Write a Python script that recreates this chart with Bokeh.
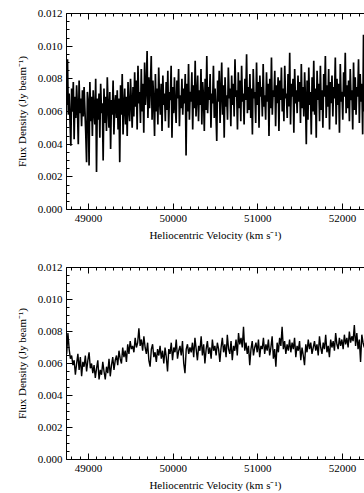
from bokeh.plotting import figure
from bokeh.layouts import column
from bokeh.models import (Range1d, FixedTicker, LinearAxis, NumeralTickFormatter,
                          CustomLabelingPolicy)
from bokeh.embed import file_html
from bokeh.resources import INLINE

# ---- data (flux densities in mJy/beam) ----
raw_v_start = 48742.0      # km/s, first channel
raw_dv = 9.794             # km/s, channel width
raw_flux_mjy = [
    6.4, 9.2, 5.8, 7.1, 5.5, 3.9, 7.4, 6.0, 7.8, 4.3, 6.9, 5.6, 7.6, 6.2, 4.0, 7.9, 5.9, 6.8, 5.1, 7.3,
    5.7, 7.5, 6.1, 4.7, 2.9, 7.2, 6.6, 2.7, 7.8, 5.4, 6.9, 4.5, 7.3, 6.0, 5.2, 8.0, 2.3, 6.8, 5.5, 7.1,
    4.4, 7.7, 5.9, 6.5, 3.0, 7.4, 5.3, 6.9, 4.8, 8.1, 6.2, 5.0, 7.2, 3.7, 6.7, 5.8, 7.9, 4.6, 6.4, 7.0,
    5.6, 7.3, 4.9, 6.8, 2.9, 7.6, 5.8, 8.3, 4.6, 6.3, 7.4, 5.2, 6.9, 4.5, 7.8, 6.1, 5.4, 8.0, 6.6, 5.0,
    7.5, 5.7, 8.4, 6.3, 7.9, 4.9, 8.8, 6.5, 7.2, 5.3, 8.6, 6.0, 7.7, 4.7, 9.0, 6.4, 7.3, 9.7, 5.6, 8.1,
    6.2, 7.6, 9.4, 5.5, 7.9, 6.6, 4.5, 8.3, 6.0, 7.4, 5.2, 8.7, 6.7, 5.8, 7.7, 4.8, 8.2, 6.4, 7.1, 5.4,
    7.8, 6.1, 8.5, 5.0, 7.2, 6.7, 8.8, 4.4, 7.5, 5.9, 8.1, 6.3, 5.3, 7.9, 6.8, 8.6, 5.1, 7.0, 6.2, 8.0,
    5.8, 7.4, 6.5, 8.3, 3.3, 7.7, 6.0, 8.9, 5.5, 7.2, 6.6, 8.4, 4.9, 7.6, 6.2, 9.1, 5.7, 7.0, 8.2, 5.4,
    7.3, 6.4, 8.6, 5.2, 7.8, 6.9, 4.8, 8.0, 6.1, 9.4, 5.9, 7.5, 6.7, 8.3, 5.0, 7.1, 6.5, 8.8, 5.6, 7.4,
    6.0, 4.2, 7.9, 6.6, 8.5, 5.3, 7.2, 9.0, 5.8, 7.6, 4.4, 8.1, 6.3, 7.0, 5.5, 8.7, 6.8, 7.4, 5.1, 8.2,
    6.4, 7.7, 5.7, 9.2, 6.9, 7.3, 4.9, 8.4, 6.2, 7.9, 5.4, 8.8, 6.6, 7.1, 5.2, 8.0, 6.7, 9.5, 5.9, 7.5,
    6.1, 8.3, 5.6, 7.4, 4.6, 8.6, 6.8, 7.2, 5.3, 9.0, 6.4, 7.8, 5.0, 8.2, 6.9, 7.5, 5.7, 8.9, 6.3, 7.0,
    5.5, 8.4, 6.6, 7.7, 4.5, 8.0, 6.2, 9.3, 5.8, 7.3, 6.9, 8.5, 5.1, 7.6, 6.5, 8.1, 4.8, 7.9, 6.7, 8.7,
    6.0, 7.4, 5.4, 8.8, 6.8, 7.1, 5.6, 8.3, 6.3, 9.6, 5.2, 7.7, 6.9, 8.0, 4.7, 8.6, 6.5, 7.3, 5.9, 8.2,
    6.6, 7.8, 5.3, 8.9, 6.2, 7.5, 5.7, 8.4, 6.8, 4.0, 7.9, 5.5, 8.7, 6.4, 7.2, 4.6, 8.1, 6.0, 9.1, 5.8,
    7.4, 4.4, 8.5, 6.7, 7.7, 5.4, 8.8, 6.1, 7.3, 5.0, 8.3, 6.9, 9.4, 5.6, 7.6, 6.3, 8.6, 4.9, 7.8, 6.5,
    8.2, 5.7, 7.5, 6.8, 9.3, 5.2, 8.0, 6.4, 7.7, 4.7, 8.9, 6.6, 7.2, 5.5, 8.4, 6.9, 9.6, 5.9, 7.6, 6.2,
    7.9, 5.4, 8.6, 6.7, 7.3, 4.9, 9.0, 6.1, 8.1, 5.8, 7.5, 6.9, 9.2, 5.3, 8.3, 6.6, 7.7, 4.6, 10.7, 6.0,
]

smooth_v_start = 48742.0   # km/s, first channel
smooth_dv = 14.71          # km/s, channel width
smooth_flux_mjy = [
    6.6, 7.9, 6.9, 6.3, 6.5, 5.9, 6.2, 5.3, 6.0, 6.6, 5.6, 6.4, 5.2, 6.1, 5.8, 6.5, 5.5, 6.2, 6.7, 5.7,
    6.0, 5.4, 5.9, 5.1, 5.7, 6.2, 5.0, 5.6, 5.3, 6.1, 5.5, 5.0, 5.8, 5.4, 6.3, 5.2, 5.9, 6.4, 5.6, 6.2,
    6.5, 5.9, 6.8, 6.3, 6.0, 7.0, 6.4, 6.8, 6.1, 7.2, 6.6, 7.4, 6.9, 7.1, 6.7, 7.6, 7.0, 7.3, 8.2, 7.1,
    7.5, 6.8, 7.7, 7.0, 6.6, 7.3, 6.2, 5.8, 6.9, 7.2, 6.4, 6.7, 6.1, 6.9, 6.5, 7.1, 6.3, 6.8, 6.0, 7.0,
    6.4, 5.5, 6.9, 6.6, 7.3, 6.2, 7.0, 6.7, 7.5, 6.3, 6.8, 7.1, 6.5, 7.4, 6.0, 5.4, 6.9, 7.2, 6.6, 7.0,
    6.7, 7.3, 6.4, 7.6, 6.9, 6.2, 7.1, 6.8, 7.7, 6.5, 7.2, 6.0, 6.9, 7.4, 6.6, 7.0, 6.3, 7.5, 6.8, 7.1,
    6.5, 7.3, 6.9, 6.1, 7.0, 7.6, 6.7, 7.2, 6.4, 7.8, 6.9, 6.6, 7.4, 6.2, 7.1, 6.8, 7.5, 6.5, 7.9, 7.2,
    7.6, 7.0, 8.3, 6.8, 7.3, 6.6, 7.1, 5.9, 6.9, 7.4, 6.5, 7.0, 7.3, 6.7, 7.5, 6.4, 7.1, 6.9, 7.6, 6.6,
    7.2, 6.8, 7.5, 6.5, 7.0, 7.7, 6.3, 6.9, 5.8, 7.3, 6.7, 7.6, 7.1, 8.3, 6.9, 7.4, 6.6, 7.2, 6.8, 7.5,
    6.7, 7.3, 6.9, 7.6, 6.4, 7.1, 6.8, 7.4, 6.2, 7.0, 6.5, 5.9, 7.2, 6.7, 7.5, 6.9, 7.3, 6.6, 7.0, 7.4,
    6.8, 7.2, 6.5, 7.7, 7.0, 6.6, 7.3, 6.9, 7.8, 6.7, 7.1, 6.4, 7.5, 7.0, 7.4, 6.8, 7.9, 7.2, 6.9, 7.6,
    7.1, 7.5, 6.9, 7.8, 7.2, 7.6, 7.0, 8.0, 7.3, 7.7, 7.4, 8.4, 7.1, 7.9, 6.9, 7.5, 6.1, 7.8, 7.3, 7.0,
]

x_major_ticks = [49000, 50000, 51000, 52000]
y_major_ticks = [0.000, 0.002, 0.004, 0.006, 0.008, 0.010, 0.012]
x_label = "Heliocentric Velocity (km s\u207b\u00b9)"
y_label = "Flux Density (Jy beam\u207b\u00b9)"

X_START, X_END = 48740, 52260
FONT = "Liberation Serif"

x_minor_ticks = [48800 + 100 * k for k in range(35)]
y_minor_ticks = [0.0005 * k for k in range(25)]


def style_axis(ax):
    ax.axis_line_color = "black"
    ax.axis_line_width = 1
    ax.major_tick_in = 6
    ax.major_tick_out = 0
    ax.minor_tick_in = 3
    ax.minor_tick_out = 0
    ax.major_tick_line_color = "black"
    ax.minor_tick_line_color = "black"
    ax.major_label_text_font = FONT
    ax.major_label_text_color = "black"
    ax.major_label_text_font_size = "11px"
    ax.axis_label_text_font = FONT
    ax.axis_label_text_font_style = "normal"
    ax.axis_label_text_color = "black"
    ax.axis_label_text_font_size = "11px"


def make_panel(flux_mjy, v0, dv, height, border_top, border_bottom, lw):
    vel = [v0 + dv * i for i in range(len(flux_mjy))]
    flux = [f / 1000.0 for f in flux_mjy]
    p = figure(width=364, height=height,
               x_range=Range1d(X_START, X_END), y_range=Range1d(0, 0.012),
               output_backend="svg", toolbar_location=None,
               min_border_left=66, min_border_right=0,
               min_border_top=border_top, min_border_bottom=border_bottom)
    p.outline_line_color = None
    p.grid.visible = False
    p.background_fill_color = "white"
    p.border_fill_color = "white"
    p.line(vel, flux, line_color="black", line_width=lw)

    xt = FixedTicker(ticks=x_major_ticks, minor_ticks=x_minor_ticks)
    yt = FixedTicker(ticks=y_major_ticks, minor_ticks=y_minor_ticks)

    xa = p.xaxis[0]
    xa.ticker = xt
    xa.formatter = NumeralTickFormatter(format="0")
    xa.axis_label = x_label
    xa.major_label_standoff = 5
    xa.axis_label_standoff = 4
    style_axis(xa)

    ya = p.yaxis[0]
    ya.ticker = yt
    ya.formatter = NumeralTickFormatter(format="0.000")
    ya.axis_label = y_label
    ya.major_label_standoff = 4
    ya.axis_label_standoff = 7
    style_axis(ya)

    top = LinearAxis(ticker=xt)
    style_axis(top)
    top.major_label_text_font_size = "1px"
    top.major_label_standoff = 0
    top.major_label_policy = CustomLabelingPolicy(
        code="for (const i of indices) { indices.unset(i) } return indices")
    p.add_layout(top, "above")
    return p


p1 = make_panel(raw_flux_mjy, raw_v_start, raw_dv, 255, 13, 46, 1.7)
p2 = make_panel(smooth_flux_mjy, smooth_v_start, smooth_dv, 238, 12, 30, 1.4)
layout = column(p1, p2, spacing=0)

open("out.html", "w").write(file_html(layout, INLINE))
